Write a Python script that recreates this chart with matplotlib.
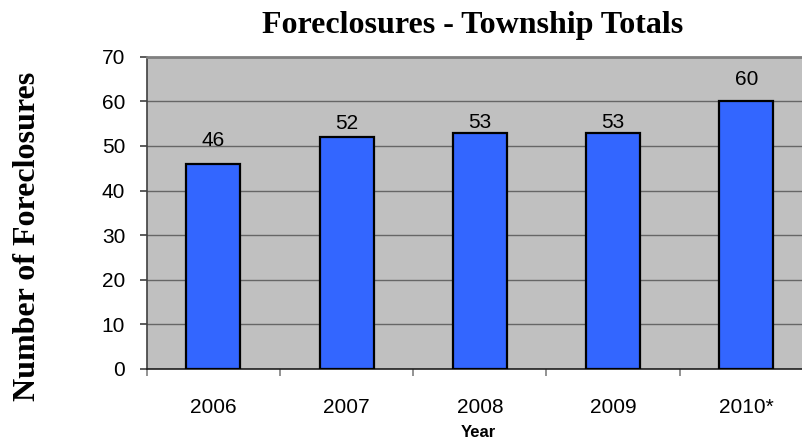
import matplotlib
matplotlib.use("Agg")
import matplotlib.pyplot as plt
import numpy as np

years = ["2006", "2007", "2008", "2009", "2010*"]
counts = [46, 52, 53, 53, 60]
yticks = [0, 10, 20, 30, 40, 50, 60, 70]

# per-label vertical offsets (points) of value labels above bar tops
label_offsets = [13, 5.5, 3.5, 3.5, 12]

W, H = 802, 445
fig = plt.figure(figsize=(W / 100, H / 100), dpi=100)
left, right, top, bottom = 146.7, 813.0, 56.7, 369.0
ax = fig.add_axes([left / W, 1 - bottom / H, (right - left) / W, (bottom - top) / H])

ax.set_facecolor("#C0C0C0")
x = np.arange(len(years))
ax.bar(x, counts, width=0.405, color="#3366FF", edgecolor="black", linewidth=1.6, zorder=3)
for xi, v, off in zip(x, counts, label_offsets):
    ax.annotate(str(v), (xi, v), xytext=(0, off), textcoords="offset points",
                ha="center", va="baseline", fontsize=15, family="Liberation Sans", zorder=4)

ax.set_xlim(-0.5, len(years) - 0.5)
ax.set_ylim(0, 70)
ax.set_yticks(yticks)
ax.yaxis.grid(True, color="#666666", linewidth=1, zorder=1)
ax.set_axisbelow(True)

ax.set_xticks(np.arange(-0.5, len(years), 1.0))
ax.set_xticklabels([])
ax.set_xticks(x, minor=True)
ax.set_xticklabels(years, minor=True, fontsize=15, family="Liberation Sans")
ax.tick_params(axis="x", which="minor", length=0, pad=20.8)
ax.tick_params(axis="x", which="major", length=5, color="#808080", width=1.2)
ax.tick_params(axis="y", length=5, color="#404040", width=1.2, pad=10.5)
for lab in ax.get_yticklabels():
    lab.set_fontsize(15)
    lab.set_family("Liberation Sans")

ax.spines["right"].set_visible(False)
ax.spines["top"].set_color("#808080")
ax.spines["top"].set_linewidth(2)
ax.spines["left"].set_color("#404040")
ax.spines["left"].set_linewidth(1.2)
ax.spines["bottom"].set_color("#202020")
ax.spines["bottom"].set_linewidth(1.2)

fig.text(473 / W, 1 - 33 / H, "Foreclosures - Township Totals", ha="center", va="baseline",
         fontsize=23, fontweight="bold", family="Liberation Serif")
fig.text(35 / W, 1 - 236.5 / H, "Number of Foreclosures", ha="center", va="baseline",
         rotation=90, rotation_mode="anchor", fontsize=23, fontweight="bold",
         family="Liberation Serif")
fig.text(478 / W, 1 - 437 / H, "Year", ha="center", va="baseline",
         fontsize=12, fontweight="bold", family="Liberation Sans")

fig.savefig("out.png", dpi=100)
